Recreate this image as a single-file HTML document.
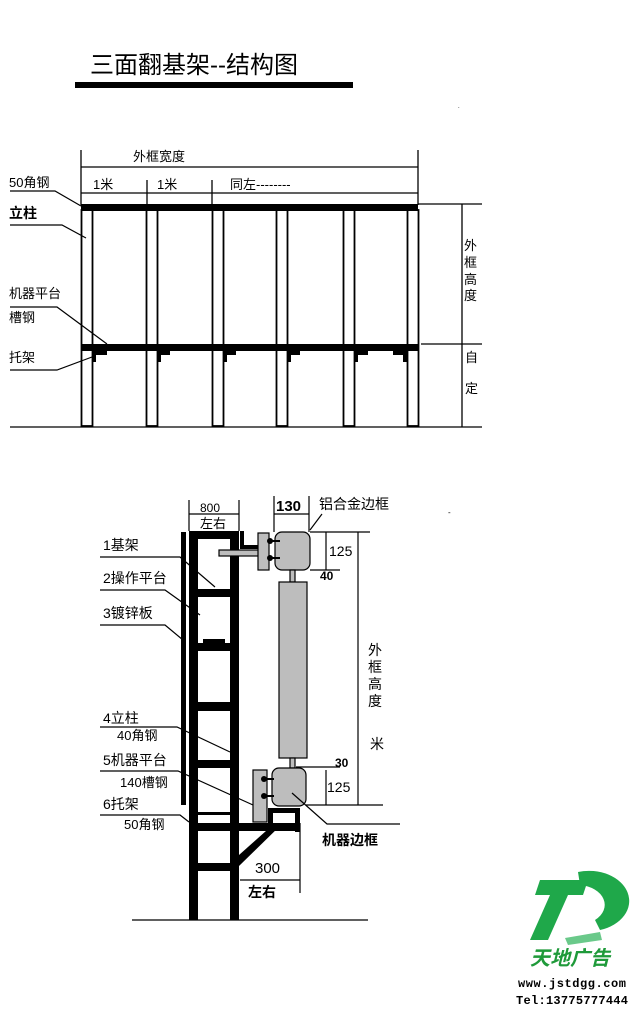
<!DOCTYPE html>
<html><head><meta charset="utf-8"><style>
body{margin:0;background:#fff}
svg{display:block}
text{font-family:"Liberation Sans","Noto Sans CJK SC",sans-serif;fill:#000}
</style></head><body>
<svg width="635" height="1012" viewBox="0 0 635 1012" xmlns="http://www.w3.org/2000/svg">
<!-- title -->
<text x="90" y="73" font-size="24">三面翻基架--结构图</text>
<rect x="75" y="82" width="278" height="6" fill="#000"/>
<!-- TOP DIAGRAM -->
<g stroke="#000" stroke-width="1.3" fill="none">
<line x1="81" y1="150" x2="81" y2="205"/><line x1="418" y1="150" x2="418" y2="205"/>
<line x1="81" y1="167" x2="418" y2="167"/><line x1="81" y1="193" x2="418" y2="193"/>
<line x1="147" y1="180" x2="147" y2="205"/><line x1="212" y1="180" x2="212" y2="205"/>
<line x1="10" y1="427" x2="482" y2="427"/>
<line x1="418" y1="204" x2="482" y2="204"/><line x1="421" y1="344" x2="482" y2="344"/>
<line x1="462" y1="204" x2="462" y2="427"/>
</g>
<g stroke="#000" stroke-width="1.8" fill="none">
<rect x="81.5" y="210" width="11" height="216"/><rect x="146.5" y="210" width="11" height="216"/>
<rect x="212.5" y="210" width="11" height="216"/><rect x="276.5" y="210" width="11" height="216"/>
<rect x="343.5" y="210" width="11" height="216"/><rect x="407.5" y="210" width="11" height="216"/>
</g>
<g stroke="#000" stroke-width="1.2" fill="none">
<polyline points="10,191 55,191 81,206"/>
<polyline points="10,225 62,225 86,238"/>
<polyline points="10,307 57,307 107,344"/>
<polyline points="10,370 57,370 92,357"/>
</g>
<rect x="81" y="204" width="337" height="7" fill="#000"/>
<rect x="81" y="344" width="337" height="7" fill="#000"/>
<g fill="#000">
<rect x="92" y="350" width="15" height="5"/><rect x="92" y="350" width="4" height="12"/>
<rect x="157" y="350" width="13" height="5"/><rect x="157" y="350" width="4" height="12"/>
<rect x="223" y="350" width="13" height="5"/><rect x="223" y="350" width="4" height="12"/>
<rect x="287" y="350" width="13" height="5"/><rect x="287" y="350" width="4" height="12"/>
<rect x="354" y="350" width="14" height="5"/><rect x="354" y="350" width="4" height="12"/>
<rect x="393" y="350" width="14" height="5"/><rect x="403" y="350" width="4" height="12"/>
</g>
<g font-size="13">
<text x="133" y="161">外框宽度</text>
<text x="93" y="189">1米</text><text x="157" y="189">1米</text>
<text x="230" y="189">同左--------</text>
<text x="9" y="187">50角钢</text>
<text x="9" y="218" font-weight="bold" font-size="14">立柱</text>
<text x="9" y="298">机器平台</text>
<text x="9" y="322">槽钢</text>
<text x="9" y="362">托架</text>
<text x="464" y="250">外</text><text x="464" y="267">框</text><text x="464" y="284">高</text><text x="464" y="300">度</text>
<text x="465" y="362">自</text><text x="465" y="393">定</text>
</g>
<!-- BOTTOM DIAGRAM -->
<g fill="#000">
<rect x="189" y="531" width="9" height="389"/>
<rect x="230" y="531" width="9" height="389"/>
<rect x="189" y="531" width="50" height="8"/>
<rect x="240" y="531" width="4" height="18"/><rect x="240" y="545" width="18" height="4"/>
<rect x="198" y="589" width="32" height="8"/>
<rect x="198" y="643" width="32" height="8"/><rect x="203" y="639" width="22" height="5"/>
<rect x="198" y="702" width="32" height="9"/>
<rect x="198" y="760" width="32" height="8"/>
<rect x="198" y="812" width="32" height="3"/>
<rect x="198" y="823" width="102" height="8"/>
<rect x="198" y="863" width="32" height="8"/>
<rect x="181" y="532" width="5" height="273"/>
<rect x="268" y="808" width="32" height="5"/><rect x="268" y="808" width="5" height="16"/><rect x="295" y="808" width="5" height="24"/>
<polygon points="239,855 275,823 283,823 239,866"/>
</g>
<g stroke="#000" stroke-width="1.2" fill="#bdbdbd">
<rect x="219" y="550" width="40" height="6"/>
<rect x="258" y="533" width="11" height="37"/>
<rect x="275" y="532" width="35" height="38" rx="7"/>
<rect x="290" y="570" width="5" height="12"/>
<rect x="279" y="582" width="28" height="176"/>
<rect x="290" y="758" width="5" height="10"/>
<rect x="253" y="770" width="14" height="52"/>
<rect x="272" y="768" width="34" height="38" rx="7"/>
</g>
<g fill="#000">
<circle cx="270" cy="541" r="3"/><circle cx="270" cy="558" r="3"/>
<rect x="268" y="540" width="12" height="2"/><rect x="268" y="557" width="12" height="2"/>
<circle cx="264" cy="779" r="3"/><circle cx="264" cy="796" r="3"/>
<rect x="262" y="778" width="12" height="2"/><rect x="262" y="795" width="12" height="2"/>
</g>
<g stroke="#000" stroke-width="1.2" fill="none">
<line x1="132" y1="920" x2="368" y2="920"/>
<line x1="189" y1="500" x2="189" y2="531"/><line x1="239" y1="500" x2="239" y2="531"/>
<line x1="189" y1="514" x2="239" y2="514"/>
<line x1="274" y1="496" x2="274" y2="532"/><line x1="309" y1="496" x2="309" y2="532"/>
<line x1="274" y1="514" x2="309" y2="514"/>
<line x1="310" y1="532" x2="370" y2="532"/><line x1="310" y1="570" x2="340" y2="570"/>
<line x1="326" y1="532" x2="326" y2="570"/>
<line x1="296" y1="767" x2="340" y2="767"/><line x1="306" y1="805" x2="383" y2="805"/>
<line x1="326" y1="770" x2="326" y2="805"/>
<line x1="358" y1="532" x2="358" y2="805"/>
<line x1="310" y1="530" x2="322" y2="514"/>
<polyline points="292,793 327,824 400,824"/>
<line x1="240" y1="880" x2="300" y2="880"/><line x1="300" y1="823" x2="300" y2="893"/>
<polyline points="100,557 180,557 215,587"/>
<polyline points="100,590 165,590 200,615"/>
<polyline points="100,625 165,625 183,640"/>
<polyline points="100,727 177,727 230,752"/>
<polyline points="100,771 178,771 253,805"/>
<polyline points="100,815 180,815 189,822"/>
</g>
<g font-size="14">
<text x="200" y="512" font-size="12">800</text><text x="200" y="528" font-size="13">左右</text>
<text x="276" y="511" font-weight="bold" font-size="15">130</text>
<text x="319" y="509">铝合金边框</text>
<text x="329" y="556">125</text><text x="320" y="580" font-weight="bold" font-size="12">40</text>
<text x="335" y="767" font-weight="bold" font-size="12">30</text><text x="327" y="792">125</text>
<text x="368" y="655">外</text><text x="368" y="672">框</text><text x="368" y="689">高</text><text x="368" y="706">度</text>
<text x="370" y="749">米</text>
<text x="322" y="845" font-weight="bold">机器边框</text>
<text x="255" y="873" font-size="15">300</text>
<text x="248" y="897" font-weight="bold">左右</text>
<text x="103" y="550">1基架</text>
<text x="103" y="583">2操作平台</text>
<text x="103" y="618">3镀锌板</text>
<text x="103" y="723">4立柱</text><text x="117" y="740" font-size="13">40角钢</text>
<text x="103" y="765">5机器平台</text><text x="120" y="787" font-size="13">140槽钢</text>
<text x="103" y="809">6托架</text><text x="124" y="829" font-size="13">50角钢</text>
</g>
<text x="458" y="108" font-size="6">.</text>
<text x="448" y="515" font-size="8">-</text>
<!-- logo -->
<g fill="#1fa84a">
<polygon points="540,880 588,880 583,895 568,895 548,940 530,940 550,895 535,895"/>
<path d="M578,872 A40,30 0 0 1 600,930 L595,920 A28,20 0 0 0 580,885 Z"/>
<path d="M565,938 L600,932 L602,940 L568,945 Z" fill="#6ac98a"/>
</g>
<text x="530" y="965" font-size="20" font-weight="bold" style="fill:#1f9a3a;font-style:italic">天地广告</text>
<text x="518" y="987" font-size="12" font-weight="bold" textLength="108" style="font-family:'Liberation Mono',monospace">www.jstdgg.com</text>
<text x="516" y="1004" font-size="12" font-weight="bold" textLength="112" style="font-family:'Liberation Mono',monospace">Tel:13775777444</text>
</svg>
</body></html>
